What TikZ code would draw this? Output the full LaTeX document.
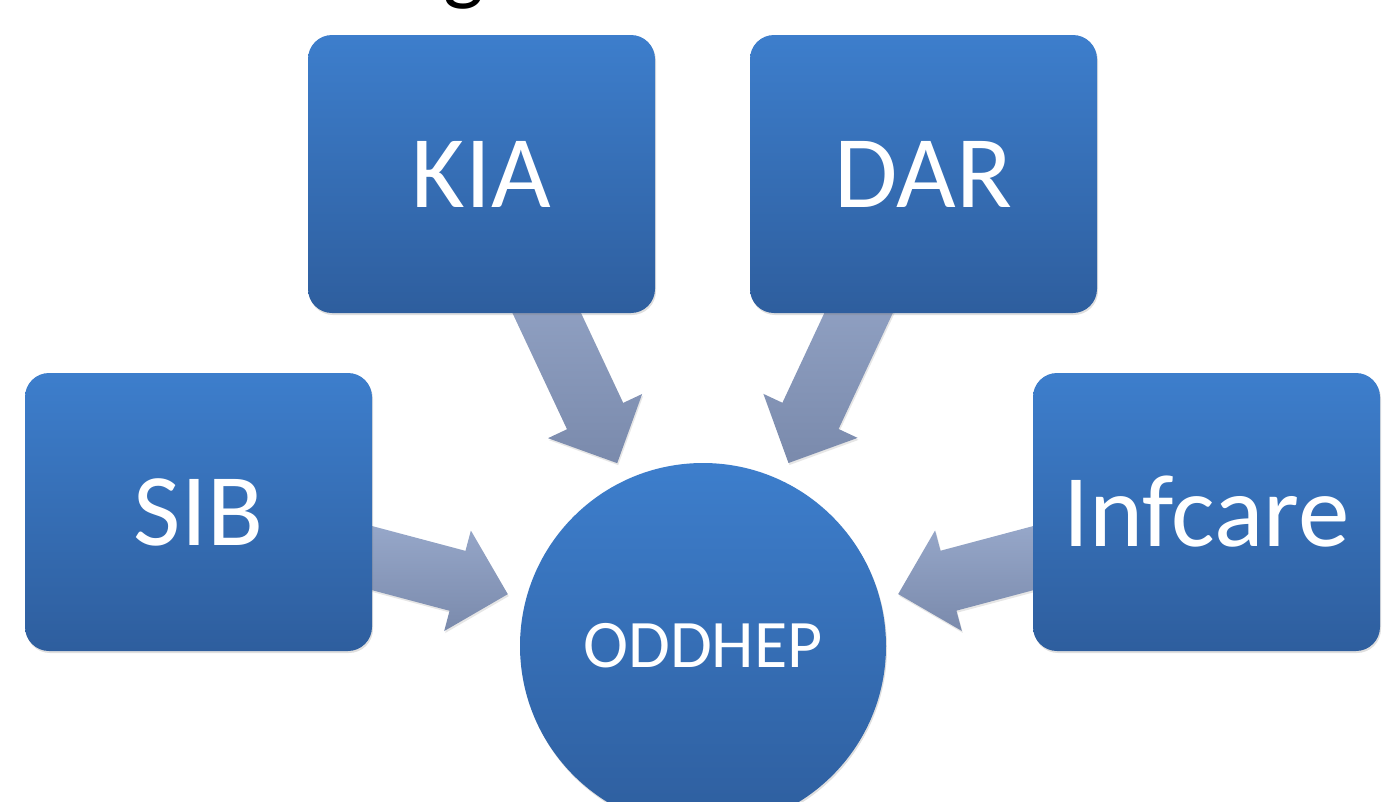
\documentclass[tikz,border=0pt]{standalone}
\usepackage{fontspec}
\setmainfont{Carlito}
\usetikzlibrary{calc,shadows,backgrounds}

\definecolor{boxTop}{RGB}{61,126,204}
\definecolor{boxBottom}{RGB}{46,94,158}
\definecolor{arrowTop}{RGB}{162,179,213}
\definecolor{arrowBottom}{RGB}{122,138,172}

%% fat arrow from node #1 pointing at node #2
\newcommand{\fatArrow}[2]{%
  \coordinate (tip) at ($(#2)!202pt!(#1)$);
  \coordinate (neck) at ($(tip)!52pt!(#1)$);
  \shade[arrowDecorate]
    ($(#1)!31pt!90:(tip)$) -- ($(neck)!31pt!90:(tip)$) -- ($(neck)!52pt!90:(tip)$)
    -- (tip) -- ($(neck)!52pt!-90:(tip)$) -- ($(neck)!31pt!-90:(tip)$)
    -- ($(#1)!31pt!-90:(tip)$) -- cycle;
}

\begin{document}
\begin{tikzpicture}
[x=1pt,y=-1pt,
  boxDecorate/.style={shape=rectangle,rounded corners=24pt,minimum width=347pt,
    minimum height=278pt,top color=boxTop,bottom color=boxBottom,text=white,
    font=\fontsize{103}{120}\selectfont,
    drop shadow={opacity=0.25,shadow xshift=1pt,shadow yshift=-2pt}},%
  hubDecorate/.style={shape=circle,minimum size=366pt,inner sep=0pt,
    top color=boxTop,bottom color=boxBottom,text=white,
    font=\fontsize{68}{80}\selectfont,
    drop shadow={opacity=0.25,shadow xshift=1pt,shadow yshift=-2pt}},%
  arrowDecorate/.style={top color=arrowTop,bottom color=arrowBottom,
    drop shadow={opacity=0.2,shadow xshift=1pt,shadow yshift=-2pt}},%
  titleDecorate/.style={anchor=base,inner sep=0pt,font=\fontsize{86}{100}\selectfont}]
\useasboundingbox (0,0) rectangle (1382,801);
\clip (0,0) rectangle (1382,801);
%% cut-off title line
\node[titleDecorate] (title) at (464,-6) {g};
%% centre
\node[hubDecorate] (hub) at (703,646) {ODDHEP};
%% sources
\foreach \nodename/\txt/\x/\y in {kia/KIA/481.5/174, dar/DAR/923.5/174,
  sib/SIB/198.5/512, infcare/Infcare/1206.5/512}
{
  \node[boxDecorate] (\nodename) at (\x,\y) {\txt};
}
%% arrows
\begin{scope}[on background layer]
\foreach \startnode in {kia, dar, sib, infcare}
{
  \fatArrow{\startnode}{hub}
}
\end{scope}
\end{tikzpicture}
\end{document}
